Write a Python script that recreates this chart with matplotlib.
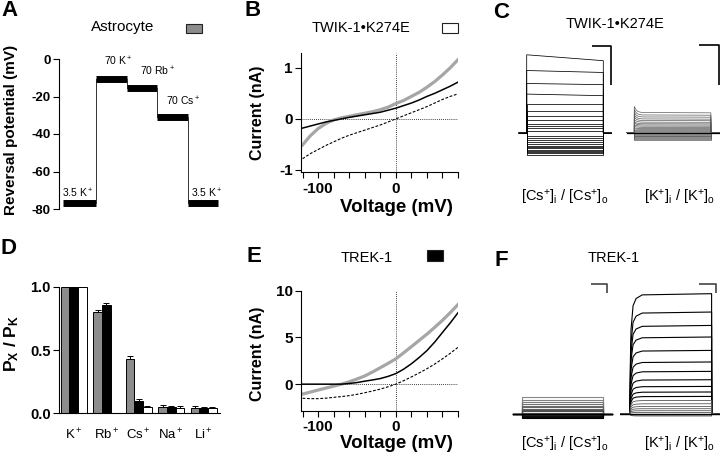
import numpy as np
import matplotlib
matplotlib.use('Agg')
import matplotlib.pyplot as plt
from matplotlib.patches import Rectangle

plt.rcParams['font.family'] = ['Liberation Sans', 'DejaVu Sans']
plt.rcParams['mathtext.fontset'] = 'custom'
plt.rcParams['mathtext.rm'] = 'Liberation Sans'
plt.rcParams['mathtext.it'] = 'Liberation Sans:italic'
plt.rcParams['mathtext.bf'] = 'Liberation Sans:bold'
plt.rcParams['axes.unicode_minus'] = False

# ---- A: reversal potential during solution changes ----
seg_edges_min = [0, 3.3, 6.4, 9.4, 12.5, 15.5]
seg_erev = [-77, -10.5, -15.5, -31, -77]
seg_names = ['3.5 K$^+$', '70 K$^+$', '70 Rb$^+$', '70 Cs$^+$', '3.5 K$^+$']

# ---- B / E: I-V curves ----
iv_mv = [-120, -110, -100, -90, -80, -70, -60, -50, -40, -30, -20,
         -10, 0, 10, 20, 30, 40, 50, 60, 70, 80]
twik_gray = [-0.51, -0.33, -0.19, -0.09, -0.02, 0.02, 0.05, 0.08, 0.11, 0.14, 0.18,
             0.23, 0.30, 0.36, 0.44, 0.52, 0.62, 0.73, 0.86, 1.00, 1.16]
twik_black = [-0.18, -0.14, -0.10, -0.06, -0.03, 0.0, 0.03, 0.055, 0.08, 0.105, 0.13,
              0.17, 0.21, 0.26, 0.31, 0.37, 0.44, 0.50, 0.57, 0.64, 0.72]
twik_dash = [-0.78, -0.68, -0.60, -0.52, -0.45, -0.38, -0.32, -0.27, -0.22, -0.17, -0.12,
             -0.06, 0.0, 0.06, 0.12, 0.18, 0.24, 0.31, 0.38, 0.44, 0.49]
trek_gray = [-1.06, -0.85, -0.63, -0.42, -0.21, 0.0, 0.25, 0.55, 0.88, 1.30, 1.76,
             2.22, 2.71, 3.35, 4.01, 4.68, 5.35, 6.08, 6.83, 7.65, 8.52]
trek_black = [0.0, 0.0, 0.0, 0.0, 0.0, 0.0, 0.07, 0.17, 0.32, 0.45, 0.60,
              0.83, 1.13, 1.60, 2.18, 2.85, 3.59, 4.50, 5.53, 6.55, 7.64]
trek_dash = [-1.51, -1.55, -1.55, -1.50, -1.41, -1.33, -1.23, -1.09, -0.92, -0.73, -0.53,
             -0.28, 0.0, 0.37, 0.77, 1.20, 1.65, 2.15, 2.71, 3.30, 3.94]

# ---- D: permeability ratios ----
ions = ['K$^+$', 'Rb$^+$', 'Cs$^+$', 'Na$^+$', 'Li$^+$']
px_astro = [1.0, 0.806, 0.431, 0.050, 0.045]
px_astro_err = [0.0, 0.015, 0.024, 0.012, 0.010]
px_trek = [1.0, 0.860, 0.100, 0.047, 0.042]
px_trek_err = [0.0, 0.010, 0.013, 0.010, 0.010]
px_twik = [1.0, np.nan, 0.052, 0.045, 0.040]
px_twik_err = [0.0, np.nan, 0.005, 0.010, 0.010]

# ---- C / F: current traces (nA), step 400 ms ----
step_ms = 400
c_cs_start = [1.99, 1.59, 1.26, 0.99, 0.74, 0.57, 0.44, 0.33, 0.24, 0.18, 0.12, 0.06,
              -0.07, -0.13, -0.19, -0.23, -0.27, -0.32, -0.35, -0.38, -0.42, -0.45,
              -0.48, -0.52, -0.55]
c_cs_end = [1.84, 1.54, 1.23, 0.95, 0.74, 0.57, 0.44, 0.33, 0.24, 0.18, 0.12, 0.06,
            -0.07, -0.13, -0.19, -0.23, -0.27, -0.32, -0.35, -0.38, -0.42, -0.45,
            -0.48, -0.52, -0.55]
c_k_start = [0.66, 0.58, 0.51, 0.45, 0.39, 0.33, 0.28, 0.24, 0.20, 0.16, 0.12, 0.09,
             0.06, 0.04, 0.02, 0.0, -0.02, -0.04, -0.06, -0.08, -0.10, -0.12, -0.14,
             -0.17, -0.19]
c_k_end = [0.50, 0.44, 0.39, 0.34, 0.30, 0.26, 0.22, 0.19, 0.16, 0.13, 0.10, 0.08,
           0.06, 0.04, 0.02, 0.0, -0.02, -0.04, -0.06, -0.08, -0.10, -0.12, -0.14,
           -0.17, -0.19]
c_k_decay_ms = [0, 10, 20, 40, 400]
c_k_decay_frac = [1.0, 0.45, 0.2, 0.05, 0.0]

f_cs = [1.84, 1.56, 1.30, 1.07, 0.87, 0.69, 0.53, 0.38, 0.23, 0.11,
        -0.05, -0.08, -0.12, -0.20, -0.25, -0.31, -0.38, -0.46]
f_k = [13.83, 11.72, 10.18, 8.85, 7.31, 5.98, 4.90, 3.94, 3.17, 2.53, 2.02, 1.56,
       1.18, 0.87, 0.61, 0.38, 0.18, -0.11, -0.23]
f_k_act_ms = [0, 2, 5, 15, 30, 60, 400]
f_k_act_frac = [0, 0.45, 0.7, 0.9, 0.96, 0.99, 1.0]

W, H = 720, 458
fig = plt.figure(figsize=(7.2, 4.58), dpi=100)


def px_axes(x0, y0, x1, y1):
    return fig.add_axes([x0 / W, 1 - y1 / H, (x1 - x0) / W, (y1 - y0) / H])


def ftext(x, y, s, **kw):
    fig.text(x / W, 1 - y / H, s, ha='center', va='center', **kw)


def fbox(x0, y0, x1, y1, color):
    fig.add_artist(Rectangle((x0 / W, 1 - y1 / H), (x1 - x0) / W, (y1 - y0) / H,
                             transform=fig.transFigure, facecolor=color,
                             edgecolor='#222222', lw=0.8))


def clean(ax):
    ax.spines['top'].set_visible(False)
    ax.spines['right'].set_visible(False)
    for s in ('left', 'bottom'):
        ax.spines[s].set_linewidth(0.8)
    ax.tick_params(direction='out', width=0.8, length=4, pad=2)
    ax.tick_params(which='minor', direction='out', width=0.8, length=4)


# panel letters
for letter, x, y in [('A', 10, 11), ('B', 253, 11), ('C', 501, 12),
                     ('D', 9, 249), ('E', 254, 256), ('F', 501, 260)]:
    ftext(x, y, letter, fontsize=16, fontweight='bold')

# ---------------- A ----------------
axA = px_axes(59, 59, 219, 209)
clean(axA)
axA.spines['bottom'].set_visible(False)
axA.set_xlim(-0.4, 15.6)
axA.set_ylim(-80, 0)
axA.set_xticks([])
axA.set_yticks([0, -20, -40, -60, -80], labels=['0', '-20', '-40', '-60', '-80'],
               fontsize=9.5, fontweight='bold')
for i, e in enumerate(seg_erev):
    axA.plot(seg_edges_min[i:i + 2], [e, e], color='k', lw=5, solid_capstyle='butt',
             clip_on=False)
    if i + 1 < len(seg_erev):
        t = seg_edges_min[i + 1]
        axA.plot([t, t], [e, seg_erev[i + 1]], color='#333333', lw=0.7)
lab_t = [1.5, 5.5, 9.4, 12.0, 14.4]
lab_mv = [-71.5, -1.1, -6.4, -22.4, -71.5]
for s, t, v in zip(seg_names, lab_t, lab_mv):
    axA.text(t, v, s, ha='center', va='center', fontsize=7.5)
ftext(11.5, 130, 'Reversal potential (mV)', rotation=90, fontsize=11, fontweight='bold')
ftext(123, 27, 'Astrocyte', fontsize=11)
fbox(185.7, 24.3, 202.3, 33.3, '#8c8c8c')


# ---------------- B / E ----------------
def iv_panel(box, ylim, yticks, gray, black, dash):
    ax = px_axes(*box)
    clean(ax)
    ax.set_xlim(-122, 80)
    ax.set_ylim(*ylim)
    ax.set_xticks([-100, 0], labels=['-100', '0'], fontsize=11, fontweight='bold')
    ax.set_xticks(np.arange(-120, 81, 20), minor=True)
    ax.set_yticks(yticks, labels=[str(v) for v in yticks], fontsize=11,
                  fontweight='bold')
    ax.tick_params(axis='x', pad=3)
    ax.axhline(0, color='k', lw=0.6, ls=(0, (1, 1.5)))
    ax.axvline(0, color='k', lw=0.6, ls=(0, (1, 1.5)))
    ax.plot(iv_mv, gray, color='#a6a6a6', lw=2.3)
    ax.plot(iv_mv, black, color='k', lw=1.1)
    ax.plot(iv_mv, dash, color='k', lw=0.8, ls=(0, (2.5, 1.5)))
    return ax


iv_panel((301, 53, 458, 172), (-1.04, 1.29), [-1, 0, 1], twik_gray, twik_black, twik_dash)
ftext(257.5, 112.5, 'Current (nA)', rotation=90, fontsize=11.5, fontweight='bold')
ftext(396.7, 207.5, 'Voltage (mV)', fontsize=13.5, fontweight='bold')
ftext(361.3, 28, 'TWIK-1\u2022K274E', fontsize=10.5)
fbox(441.7, 23, 458.3, 33.3, 'white')

iv_panel((301, 290.7, 458, 410.7), (-2.84, 10), [0, 5, 10], trek_gray, trek_black, trek_dash)
ftext(257.5, 354, 'Current (nA)', rotation=90, fontsize=11.5, fontweight='bold')
ftext(396.7, 444, 'Voltage (mV)', fontsize=13.5, fontweight='bold')
ftext(367, 257.5, 'TREK-1', fontsize=10.5)
fbox(426.7, 250, 443.3, 261, 'black')

# ---------------- D ----------------
axD = px_axes(59, 287, 220, 413.3)
clean(axD)
axD.set_xlim(-0.455, 4.5)
axD.set_ylim(0, 1.0)
x = np.arange(len(ions))
w = 0.268
for off, vals, errs, col in [(-w, px_astro, px_astro_err, '#8c8c8c'),
                             (0, px_trek, px_trek_err, 'black'),
                             (w, px_twik, px_twik_err, 'white')]:
    vals = np.array(vals)
    errs = np.array(errs)
    ok = ~np.isnan(vals)
    axD.bar(x[ok] + off, vals[ok], w, color=col, edgecolor='k', lw=0.7, clip_on=False,
            zorder=2)
    axD.errorbar(x[ok] + off, vals[ok], yerr=[np.zeros(ok.sum()), errs[ok]], fmt='none',
                 ecolor='k', elinewidth=0.7, capsize=2, capthick=0.7, zorder=1)
axD.set_xticks(x, labels=ions, fontsize=9.5)
axD.tick_params(axis='x', length=0, pad=10)
axD.set_yticks([0, 0.5, 1.0], labels=['0.0', '0.5', '1.0'], fontsize=10.5,
               fontweight='bold')
ftext(11.5, 343.5, r'$\mathregular{P_X\ /\ P_K}$', rotation=90, fontsize=12.5,
      fontweight='bold')


# ---------------- C / F ----------------
def trace_axes(x0, y0, x1, y1, t0_px, base_px, ms_px, px_na):
    ax = px_axes(x0, y0, x1, y1)
    ax.set_xlim((x0 - t0_px) * ms_px, (x1 - t0_px) * ms_px)
    ax.set_ylim((base_px - y1) / px_na, (base_px - y0) / px_na)
    ax.axis('off')
    return ax


def sweep(ax, t_in, lvl, pre, post, **kw):
    t = np.concatenate([[-pre, 0], t_in, [step_ms, step_ms + post]])
    y = np.concatenate([[0, 0], lvl, [0, 0]])
    ax.plot(t, y, **kw)


def scale_bar(ax, t, i, dt, di, color):
    ax.plot([t - dt, t, t], [i, i, i - di], color=color, lw=1.2, clip_on=False,
            solid_capstyle='butt')


c_ms_px = 400 / 76.6
axC1 = trace_axes(505, 35, 620, 165, 526.7, 133, c_ms_px, 39.3)
for s, e in zip(c_cs_start, c_cs_end):
    sweep(axC1, [0, step_ms], [s, e], 42, 42, color='k', lw=0.55)
scale_bar(axC1, 440, 2.22, 100, 1.0, 'k')

axC2 = trace_axes(620, 35, 720, 165, 634.3, 132.5, c_ms_px, 39.3)
frac = np.array(c_k_decay_frac)
for s, e in zip(c_k_start, c_k_end):
    sweep(axC2, c_k_decay_ms, e + (s - e) * frac, 40, 60, color='#5a5a5a', lw=0.5)
axC2.plot([-40, step_ms + 60], [0, 0], color='k', lw=0.9)
scale_bar(axC2, 440, 2.22, 100, 1.0, 'k')

ftext(615, 24, 'TWIK-1\u2022K274E', fontsize=10.5)
cs_lab = r'[Cs$^{+}$]$_\mathregular{i}$ / [Cs$^{+}$]$_\mathregular{o}$'
k_lab = r'[K$^{+}$]$_\mathregular{i}$ / [K$^{+}$]$_\mathregular{o}$'
ftext(565, 197, cs_lab, fontsize=10.5)
ftext(680, 197, k_lab, fontsize=10.5)

f_ms_px = 400 / 81.6
axF1 = trace_axes(505, 275, 620, 425, 521.7, 413.5, f_ms_px, 8.7)
greys = plt.cm.Greys(np.linspace(0.55, 1.0, len(f_cs)))
for a, col in zip(f_cs, greys):
    sweep(axF1, [0, step_ms], [a, a], 42, 42, color=col, lw=0.8)
axF1.plot([-42, step_ms + 42], [0, 0], color='k', lw=0.9)
scale_bar(axF1, 420, 14.9, 80, 1.0, '#444444')

axF2 = trace_axes(620, 275, 720, 425, 630, 414, f_ms_px, 8.7)
act = np.array(f_k_act_frac)
for j, a in enumerate(f_k):
    col = 'k' if j < 11 else '#555555'
    sweep(axF2, f_k_act_ms, a * act, 49, 60, color=col, lw=0.8 if j < 11 else 0.6)
axF2.plot([-49, step_ms + 60], [0, 0], color='k', lw=1.0)
scale_bar(axF2, 420, 14.9, 80, 1.0, '#444444')

ftext(614, 257.5, 'TREK-1', fontsize=10.5)
ftext(565, 445, cs_lab, fontsize=10.5)
ftext(680, 445, k_lab, fontsize=10.5)

fig.savefig('out.png', dpi=100)
